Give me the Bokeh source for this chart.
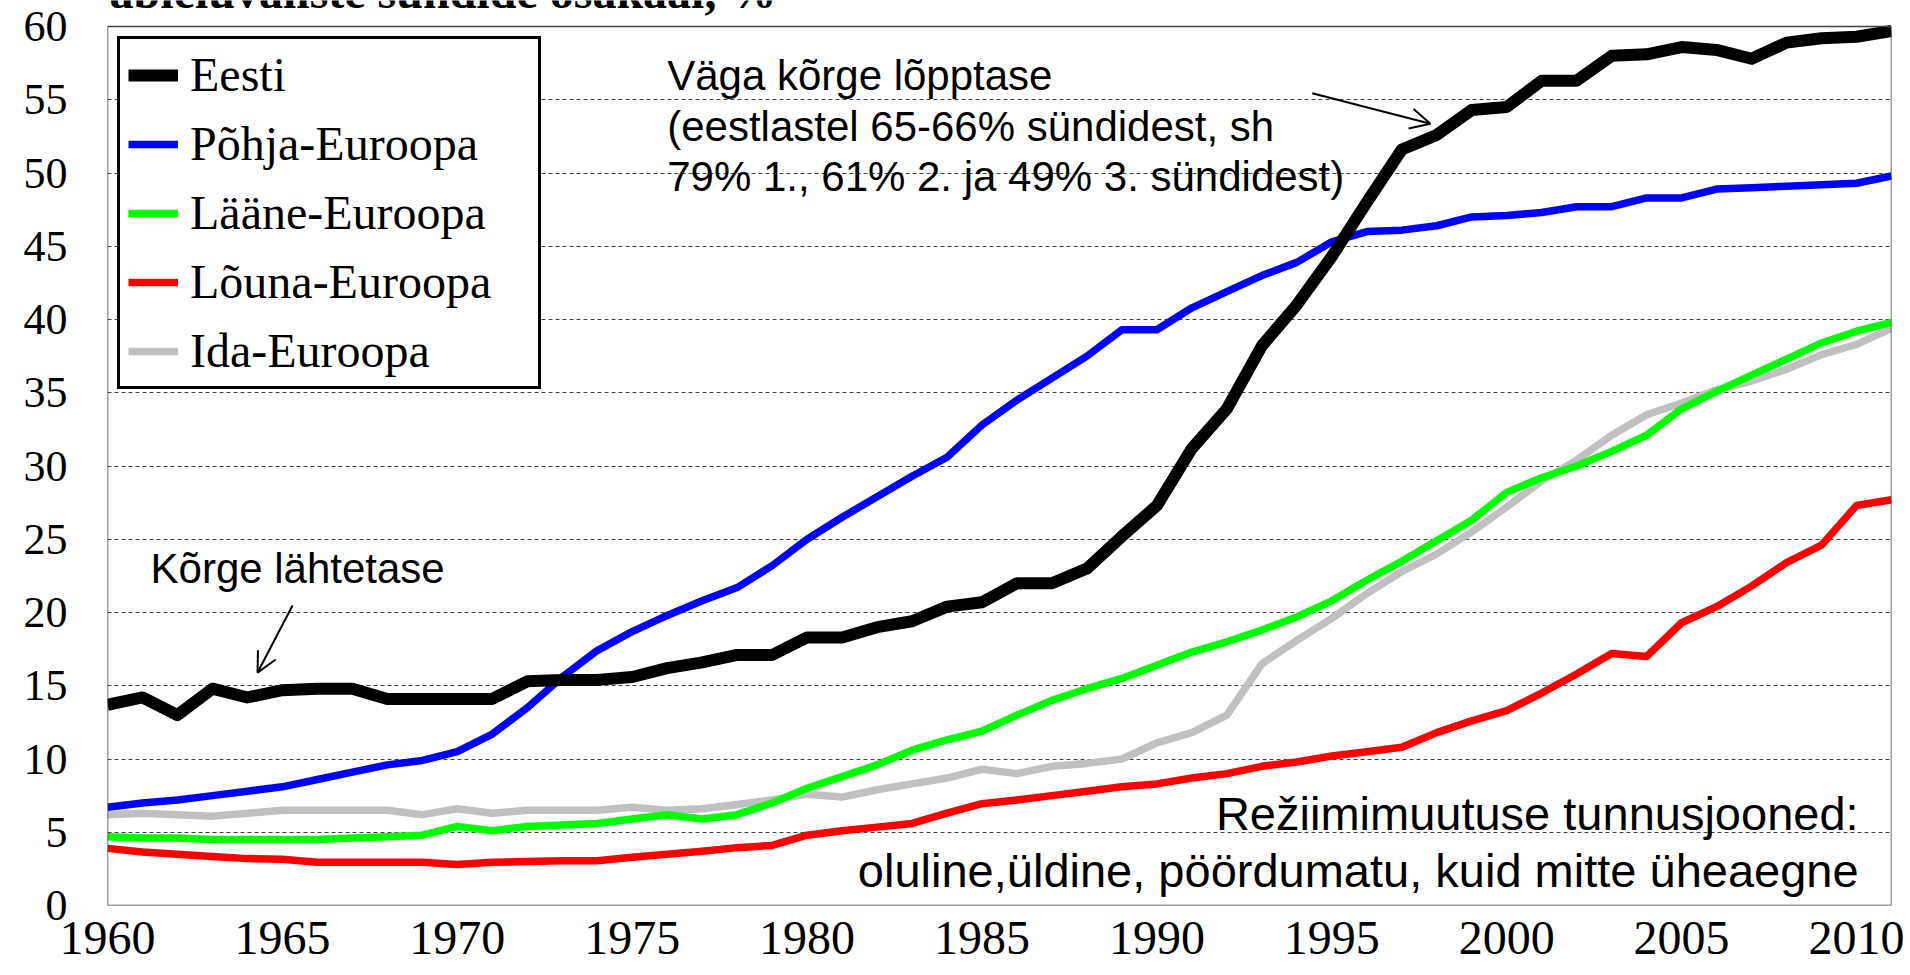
from bokeh.plotting import figure
from bokeh.models import (Range1d, FixedTicker, Legend, LegendItem, Label, Arrow, OpenHead,
                          BoxAnnotation)
from bokeh.embed import file_html
from bokeh.resources import INLINE

years = list(range(1960, 2012))

eesti = [13.7, 14.2, 13.0, 14.8, 14.2, 14.7, 14.8, 14.8, 14.1, 14.1,
         14.1, 14.1, 15.3, 15.4, 15.4, 15.6, 16.2, 16.6, 17.1, 17.1,
         18.3, 18.3, 19.0, 19.4, 20.4, 20.7, 22.0, 22.0, 23.0, 25.2,
         27.3, 31.2, 33.9, 38.2, 41.0, 44.3, 48.0, 51.6, 52.6, 54.3,
         54.5, 56.3, 56.3, 58.0, 58.1, 58.6, 58.4, 57.8, 58.9, 59.2,
         59.3, 59.7]

pohja = [6.7, 7.0, 7.2, 7.5, 7.8, 8.1, 8.6, 9.1, 9.6, 9.9,
         10.5, 11.7, 13.5, 15.6, 17.4, 18.7, 19.8, 20.8, 21.7, 23.2,
         25.0, 26.5, 27.9, 29.3, 30.6, 32.8, 34.5, 36.0, 37.5, 39.3,
         39.3, 40.8, 41.9, 43.0, 43.9, 45.3, 46.0, 46.1, 46.4, 47.0,
         47.1, 47.3, 47.7, 47.7, 48.3, 48.3, 48.9, 49.0, 49.1, 49.2,
         49.3, 49.8]

laane = [4.7, 4.6, 4.6, 4.5, 4.5, 4.5, 4.5, 4.6, 4.7, 4.8,
         5.4, 5.1, 5.4, 5.5, 5.6, 5.9, 6.2, 5.9, 6.2, 7.0,
         8.0, 8.8, 9.6, 10.6, 11.3, 11.9, 13.0, 14.0, 14.8, 15.5,
         16.4, 17.3, 18.0, 18.8, 19.7, 20.8, 22.2, 23.5, 24.9, 26.3,
         28.2, 29.2, 30.0, 31.0, 32.1, 33.9, 35.1, 36.2, 37.3, 38.4,
         39.2, 39.8]

louna = [3.9, 3.65, 3.5, 3.35, 3.2, 3.15, 2.95, 2.95, 2.95, 2.95,
         2.8, 2.95, 3.0, 3.05, 3.05, 3.3, 3.5, 3.7, 3.95, 4.1,
         4.8, 5.1, 5.35, 5.6, 6.3, 6.95, 7.2, 7.5, 7.8, 8.1,
         8.3, 8.7, 9.0, 9.5, 9.8, 10.2, 10.5, 10.8, 11.8, 12.6,
         13.3, 14.5, 15.8, 17.2, 17.0, 19.3, 20.4, 21.8, 23.4, 24.6,
         27.3, 27.7]

ida = [6.2, 6.3, 6.2, 6.1, 6.3, 6.5, 6.5, 6.5, 6.5, 6.2,
       6.6, 6.3, 6.5, 6.5, 6.5, 6.7, 6.5, 6.6, 6.9, 7.2,
       7.6, 7.4, 7.9, 8.3, 8.7, 9.3, 9.0, 9.5, 9.7, 10.0,
       11.1, 11.8, 13.0, 16.5, 18.1, 19.6, 21.3, 22.8, 24.0, 25.5,
       27.2, 29.0, 30.4, 32.1, 33.5, 34.3, 35.2, 35.8, 36.6, 37.6,
       38.3, 39.4]

series_names = ["Eesti", "Põhja-Euroopa", "Lääne-Euroopa", "Lõuna-Euroopa", "Ida-Euroopa"]
x_ticks = [1960, 1965, 1970, 1975, 1980, 1985, 1990, 1995, 2000, 2005, 2010]
y_ticks = [0, 5, 10, 15, 20, 25, 30, 35, 40, 45, 50, 55, 60]
grid_ticks = [5, 10, 15, 20, 25, 30, 35, 40, 45, 50, 55]

title_text = "abieluväliste sündide osakaal, %"
note_top = ["Väga kõrge lõpptase",
            "(eestlastel 65-66% sündidest, sh",
            "79% 1., 61% 2. ja 49% 3. sündidest)"]
note_low = "Kõrge lähtetase"
note_bottom = ["Režiimimuutuse tunnusjooned:",
               "oluline,üldine, pöördumatu, kuid mitte üheaegne"]

# the frame reaches the canvas top so that the half-hidden heading can be drawn;
# the visible chart box (0..60) is drawn as a box annotation
p = figure(width=1910, height=975, output_backend="svg", toolbar_location=None,
           x_range=Range1d(1960, 2011), y_range=Range1d(0, 61.775),
           min_border_left=107, min_border_right=19, min_border_top=0,
           min_border_bottom=70)
p.background_fill_color = "white"
p.border_fill_color = "white"
p.outline_line_color = None

p.xgrid.visible = False
p.ygrid.ticker = FixedTicker(ticks=grid_ticks)
p.ygrid.grid_line_color = "#404040"
p.ygrid.grid_line_dash = "4 3"
p.ygrid.grid_line_width = 1

p.xaxis.ticker = FixedTicker(ticks=x_ticks)
p.yaxis.ticker = FixedTicker(ticks=y_ticks)
for ax in (p.xaxis[0], p.yaxis[0]):
    ax.axis_line_color = None
    ax.major_tick_line_color = None
    ax.minor_tick_line_color = None
    ax.major_tick_out = 0
    ax.major_tick_in = 0
    ax.minor_tick_out = 0
    ax.major_label_text_font = "Liberation Serif"
    ax.major_label_text_color = "black"
p.yaxis.major_label_text_font_size = "44px"
p.xaxis.major_label_text_font_size = "48px"
p.yaxis.major_label_standoff = 40
p.xaxis.major_label_standoff = 16

r_ida = p.line(years, ida, line_color="#C0C0C0", line_width=7.5, line_join="round")
r_louna = p.line(years, louna, line_color="#FF0000", line_width=7.5, line_join="round")
r_laane = p.line(years, laane, line_color="#00FF00", line_width=7.5, line_join="round")
r_pohja = p.line(years, pohja, line_color="#0000FF", line_width=7.5, line_join="round")
r_eesti = p.line(years, eesti, line_color="#000000", line_width=12, line_join="round")

p.add_layout(BoxAnnotation(left=1960, right=2011, bottom=0, top=60,
                           fill_color=None, fill_alpha=0,
                           line_color="#404040", line_width=1.5, line_alpha=1.0))

renderers = [r_eesti, r_pohja, r_laane, r_louna, r_ida]
legend = Legend(items=[LegendItem(label=n, renderers=[r]) for n, r in zip(series_names, renderers)],
                location=(10, 516), margin=0, padding=8, spacing=14,
                glyph_width=50, glyph_height=40, label_height=40, label_width=340,
                label_standoff=12, border_line_color="black", border_line_width=3,
                border_line_alpha=1.0,
                background_fill_color="white", background_fill_alpha=1.0,
                label_text_font="Liberation Serif", label_text_font_size="48px",
                label_text_color="black")
p.add_layout(legend)

sans = "Liberation Sans"
p.add_layout(Label(x=1960.06, y=60.6, text=title_text, text_font="Liberation Serif",
                   text_font_style="bold", text_font_size="48px", text_baseline="bottom",
                   text_align="left", text_color="black"))

for txt, yy in zip(note_top, [56.66, 53.2, 49.76]):
    p.add_layout(Label(x=1976.0, y=yy, text=txt, text_font=sans, text_font_size="42px",
                       text_baseline="middle", text_align="left", text_color="black"))

p.add_layout(Label(x=1961.23, y=23.0, text=note_low, text_font=sans, text_font_size="42px",
                   text_baseline="middle", text_align="left", text_color="black"))

for txt, yy in zip(note_bottom, [6.28, 2.39]):
    p.add_layout(Label(x=2010.06, y=yy, text=txt, text_font=sans, text_font_size="47px",
                       text_baseline="middle", text_align="right", text_color="black"))

p.add_layout(Arrow(end=OpenHead(size=20, line_width=2, line_color="black"),
                   x_start=1965.29, y_start=20.48, x_end=1964.29, y_end=15.9,
                   line_width=2, line_color="black"))
p.add_layout(Arrow(end=OpenHead(size=20, line_width=2, line_color="black"),
                   x_start=1994.44, y_start=55.45, x_end=1997.82, y_end=53.36,
                   line_width=2, line_color="black"))

open("out.html", "w").write(file_html(p, INLINE))
